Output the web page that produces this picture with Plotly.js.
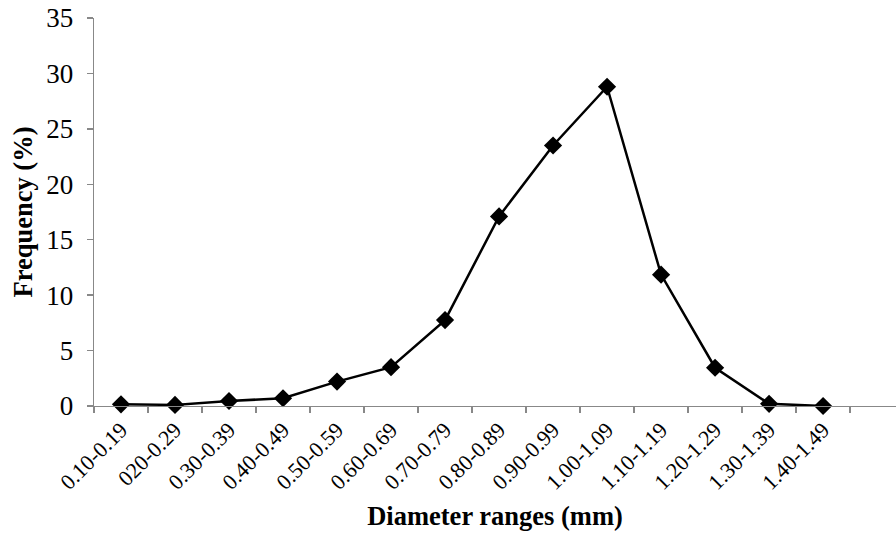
<!DOCTYPE html>
<html>
<head>
<meta charset="utf-8">
<script src="https://cdn.plot.ly/plotly-3.0.1.min.js"></script>
<style>html,body{margin:0;padding:0;background:#fff;}#chart{width:896px;height:533px;}</style>
</head>
<body>
<div id="chart"></div>
<script>
const categories = ["0.10-0.19","020-0.29","0.30-0.39","0.40-0.49","0.50-0.59","0.60-0.69","0.70-0.79","0.80-0.89","0.90-0.99","1.00-1.09","1.10-1.19","1.20-1.29","1.30-1.39","1.40-1.49"];
const frequency = [0.15, 0.1, 0.45, 0.7, 2.2, 3.5, 7.75, 17.1, 23.5, 28.8, 11.85, 3.45, 0.2, 0.0];
const yTicks = [0, 5, 10, 15, 20, 25, 30, 35];

const trace = {
  x: categories,
  y: frequency,
  type: 'scatter',
  mode: 'lines+markers',
  line: {color: '#000', width: 2.5},
  marker: {symbol: 'diamond', size: 14, color: '#000'},
  cliponaxis: false,
  hoverinfo: 'skip'
};

const font = "'Liberation Serif', 'Times New Roman', serif";
const layout = {
  width: 896, height: 533,
  margin: {l: 94, r: 0, t: 18, b: 127},
  paper_bgcolor: '#fff', plot_bgcolor: '#fff',
  showlegend: false,
  font: {family: font, color: '#000'},
  xaxis: {
    type: 'category',
    range: [-0.5, 14.35],
    tickson: 'boundaries',
    ticks: 'outside', ticklen: 6, tickcolor: '#888', tickwidth: 1.3,
    showline: true, linecolor: '#888', linewidth: 1.3,
    showgrid: false, zeroline: false,
    tickangle: -45,
    ticklabelstandoff: 1,
    tickfont: {family: font, size: 22, color: '#000'},
    title: {text: '<b>Diameter ranges (mm)</b>', font: {family: font, size: 26.5, color: '#000'}, standoff: 12}
  },
  yaxis: {
    range: [0, 35],
    tickvals: yTicks,
    ticktext: yTicks.map(String),
    ticks: 'outside', ticklen: 6, tickcolor: '#888', tickwidth: 1.3,
    showline: true, linecolor: '#888', linewidth: 1.3,
    showgrid: false, zeroline: false,
    tickfont: {family: font, size: 27, color: '#000'},
    ticklabelstandoff: 8,
    title: {text: '<b>Frequency (%)</b>', font: {family: font, size: 26.5, color: '#000'}, standoff: 6}
  }
};

Plotly.newPlot('chart', [trace], layout, {staticPlot: true, displayModeBar: false});
</script>
</body>
</html>
